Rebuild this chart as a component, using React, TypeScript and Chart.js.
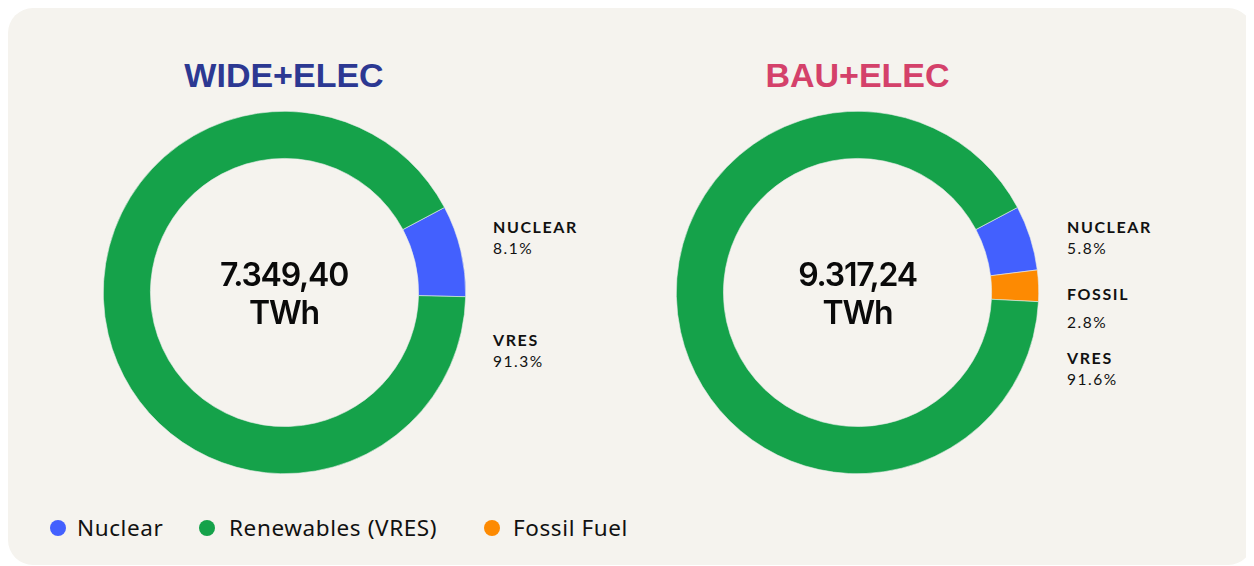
import React, { useEffect, useRef } from "react";
import { Chart, registerables } from "chart.js";

Chart.register(...registerables);

const scenarioTitles = ["WIDE+ELEC", "BAU+ELEC"];
const titleColors = ["#2c3892", "#d4416a"];
const sourceLabels = ["Nuclear", "Fossil Fuel", "Renewables (VRES)"];
const sourceColors = ["#4360fe", "#fd8a02", "#15a24a"];
const wideValues = [8.1, 0, 91.3];
const bauValues = [5.8, 2.8, 91.6];
const totals = ["7.349,40", "9.317,24"];
const unit = "TWh";
const shortLabels = ["NUCLEAR", "FOSSIL", "VRES"];
const legendOrder = [0, 2, 1];

const BG = "#f5f3ee";

function Donut({ values, left }: { values: number[]; left: number }) {
  const ref = useRef<HTMLCanvasElement | null>(null);
  useEffect(() => {
    if (!ref.current) return;
    const chart = new Chart(ref.current, {
      type: "doughnut",
      data: {
        labels: sourceLabels,
        datasets: [
          {
            data: values,
            backgroundColor: sourceColors,
            borderColor: "#e8ece9",
            borderWidth: 0.6,
          },
        ],
      },
      options: {
        responsive: false,
        maintainAspectRatio: false,
        animation: false,
        rotation: 62,
        cutout: "74%",
        layout: { padding: 0 },
        plugins: {
          legend: { display: false },
          tooltip: { enabled: false },
        },
      },
    });
    return () => chart.destroy();
  }, []);
  return (
    <canvas
      ref={ref}
      width={363}
      height={363}
      style={{ position: "absolute", left, top: 103, width: 363, height: 363 }}
    />
  );
}

const nameStyle: React.CSSProperties = {
  fontFamily: "Lato, sans-serif",
  fontWeight: 700,
  fontSize: 16,
  letterSpacing: 1.6,
  lineHeight: "16px",
  color: "#111",
};
const pctStyle: React.CSSProperties = {
  fontFamily: "Lato, sans-serif",
  fontWeight: 400,
  fontSize: 15.5,
  letterSpacing: 1.5,
  lineHeight: "16px",
  color: "#111",
};

function SideLabel({
  x,
  y,
  name,
  pct,
  gap = 5,
}: {
  x: number;
  y: number;
  name: string;
  pct: string;
  gap?: number;
}) {
  return (
    <div style={{ position: "absolute", left: x, top: y }}>
      <div style={nameStyle}>{name}</div>
      <div style={{ ...pctStyle, marginTop: gap }}>{pct}</div>
    </div>
  );
}

const legendDotX = [42, 191, 476];
const legendTextX = [69, 221, 505];

export default function App() {
  const centers = [284, 857.5];
  return (
    <div
      style={{
        position: "relative",
        width: 1245,
        height: 557,
        background: BG,
        borderRadius: 25,
        overflow: "hidden",
      }}
    >
      {scenarioTitles.map((t, i) => (
        <div
          key={t}
          style={{
            position: "absolute",
            left: centers[i] - 8 - 200,
            width: 400,
            top: 47,
            textAlign: "center",
            fontFamily: "'Liberation Sans', Arial, sans-serif",
            fontWeight: 700,
            fontSize: 34,
            lineHeight: "40px",
            color: titleColors[i],
          }}
        >
          {t}
        </div>
      ))}
      <Donut values={wideValues} left={centers[0] - 8 - 181.5} />
      <Donut values={bauValues} left={centers[1] - 8 - 181.5} />
      {totals.map((t, i) => (
        <div
          key={t}
          style={{
            position: "absolute",
            left: centers[i] - 8 - 120,
            width: 240,
            top: 248,
            textAlign: "center",
            fontFamily: "Inter, sans-serif",
            fontWeight: 600,
            fontSize: 32,
            letterSpacing: -1.2,
            lineHeight: "38px",
            color: "#0a0a0a",
          }}
        >
          <div>{t}</div>
          <div>{unit}</div>
        </div>
      ))}
      <SideLabel x={485} y={211} name={shortLabels[0]} pct={wideValues[0].toFixed(1) + "%"} />
      <SideLabel x={485} y={324} name={shortLabels[2]} pct={wideValues[2].toFixed(1) + "%"} />
      <SideLabel x={1059} y={211} name={shortLabels[0]} pct={bauValues[0].toFixed(1) + "%"} />
      <SideLabel x={1059} y={278} name={shortLabels[1]} pct={bauValues[1].toFixed(1) + "%"} gap={12} />
      <SideLabel x={1059} y={342} name={shortLabels[2]} pct={bauValues[2].toFixed(1) + "%"} />
      {legendOrder.map((k, j) => (
        <React.Fragment key={k}>
          <span
            style={{
              position: "absolute",
              left: legendDotX[j],
              top: 512,
              width: 16,
              height: 16,
              borderRadius: "50%",
              background: sourceColors[k],
            }}
          />
          <span
            style={{
              position: "absolute",
              left: legendTextX[j],
              top: 506,
              fontFamily: "'Noto Sans', sans-serif",
              fontSize: 22.5,
              lineHeight: "28px",
              letterSpacing: 0.6,
              color: "#111",
              whiteSpace: "nowrap",
            }}
          >
            {sourceLabels[k]}
          </span>
        </React.Fragment>
      ))}
    </div>
  );
}
